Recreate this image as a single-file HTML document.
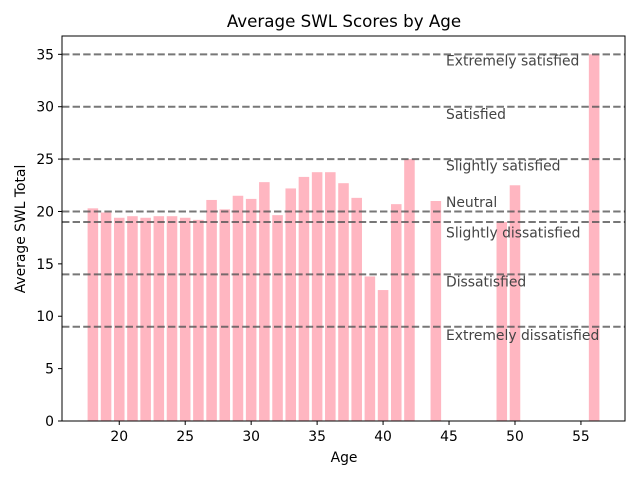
<!DOCTYPE html>
<html><head><meta charset="utf-8"><style>
body{margin:0;background:#fff;font-family:"DejaVu Sans","Liberation Sans",sans-serif}
</style></head><body>
<svg id="chart" width="640" height="480" xmlns="http://www.w3.org/2000/svg" font-family="DejaVu Sans, Liberation Sans, sans-serif">
<rect width="640" height="480" fill="#fff"/>
<text x="344" y="27" font-size="16.7" text-anchor="middle" fill="#000">Average SWL Scores by Age</text>
<g id="bars"></g><g id="lines"></g><g id="xt"></g><g id="yt"></g>
<rect x="62" y="36" width="563" height="385" fill="none" stroke="#000" stroke-width="1"/>
<text x="344" y="462" font-size="13.9" text-anchor="middle">Age</text>
<text transform="translate(25,229) rotate(-90)" font-size="13.9" text-anchor="middle">Average SWL Total</text>
</svg>
<script>
const ages=[18,19,20,21,22,23,24,25,26,27,28,29,30,31,32,33,34,35,36,37,38,39,40,41,42,44,49,50,56];
const scores=[20.3,19.9,19.4,19.55,19.4,19.55,19.55,19.4,19.2,21.1,20.2,21.5,21.2,22.8,19.65,22.2,23.3,23.75,23.75,22.7,21.3,13.8,12.5,20.7,25.0,21.0,19.0,22.5,35.0];
const levels=[35,30,25,20,19,14,9];
const levelLabels=["Extremely satisfied","Satisfied","Slightly satisfied","Neutral","Slightly dissatisfied","Dissatisfied","Extremely dissatisfied"];
const labelOffsets=[-0.6,-0.7,-0.6,0.9,-1.0,-0.7,-0.8];
const xTicks=[20,25,30,35,40,45,50,55];
const yTicks=[0,5,10,15,20,25,30,35];
const X0=15.66,X1=58.34,Y1=36.75;
const px=v=>62+(v-X0)/(X1-X0)*563;
const py=v=>421-v/Y1*385;
const NS="http://www.w3.org/2000/svg";
function mk(tag,attrs,parent,txt){const e=document.createElementNS(NS,tag);for(const k in attrs)e.setAttribute(k,attrs[k]);if(txt!==undefined)e.textContent=txt;document.getElementById(parent).appendChild(e);return e;}
ages.forEach((a,i)=>{
 const e=mk('rect',{x:px(a-0.4),y:py(scores[i]),width:px(a+0.4)-px(a-0.4),height:py(0)-py(scores[i]),fill:'#ffb6c1'},'bars');
 
 
});
levels.forEach((l,i)=>{
 const ln=mk('line',{x1:62,x2:625,y1:py(l),y2:py(l),stroke:'#555','stroke-opacity':0.8,'stroke-width':2,'stroke-dasharray':'7.4,3.2'},'lines');
 
 
 const t=mk('text',{x:446,y:py(l+labelOffsets[i])+5,'font-size':13.9,fill:'#444'},'lines',levelLabels[i]);
 
 
});
xTicks.forEach(v=>{
 const tk=mk('line',{x1:px(v),x2:px(v),y1:421,y2:425,stroke:'#000'},'xt');
 
 
 const t=mk('text',{x:px(v),y:441,'font-size':13.9,'text-anchor':'middle'},'xt',v);
 
 
});
yTicks.forEach(v=>{
 const tk=mk('line',{x1:58,x2:62,y1:py(v),y2:py(v),stroke:'#000'},'yt');
 
 
 const t=mk('text',{x:54,y:py(v)+5,'font-size':13.9,'text-anchor':'end'},'yt',v);
 
 
});
</script>
</body></html>
